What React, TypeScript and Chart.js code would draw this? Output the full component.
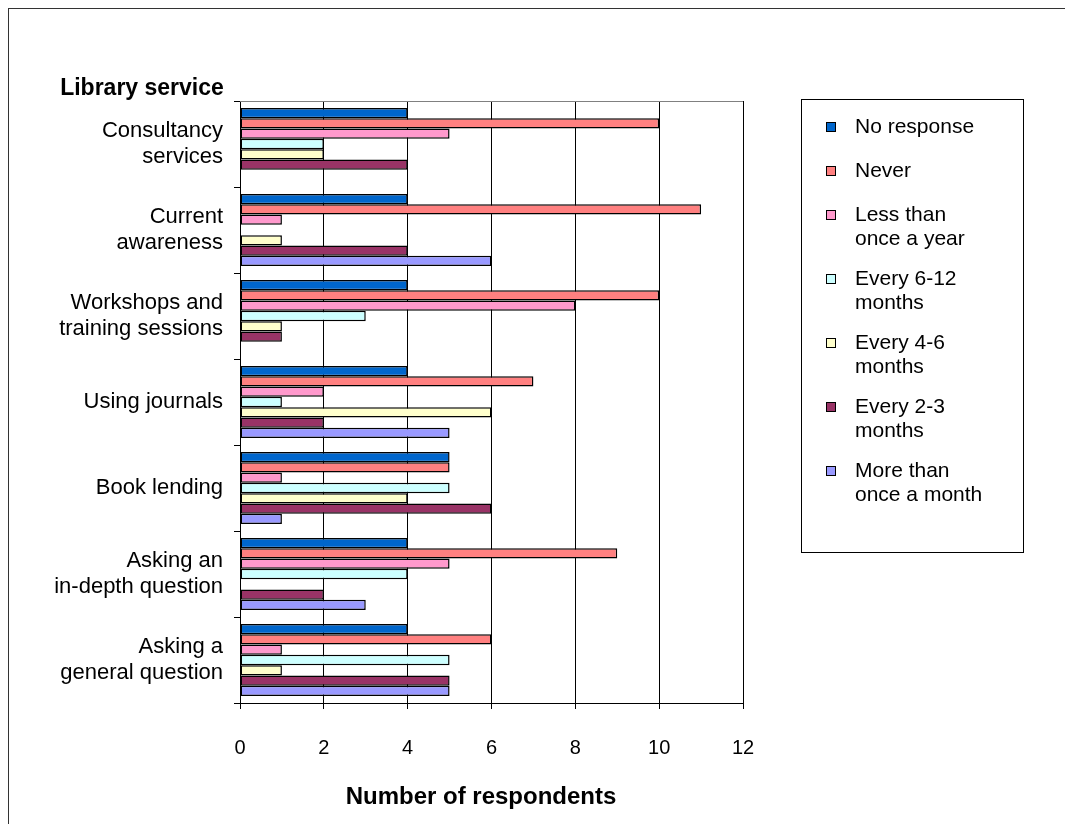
import React, { useEffect, useRef } from "react";
import { Chart, registerables } from "chart.js";

Chart.register(...registerables);

// ---- Data ----
const categories: string[][] = [
  ["Consultancy", "services"],
  ["Current", "awareness"],
  ["Workshops and", "training sessions"],
  ["Using journals"],
  ["Book lending"],
  ["Asking an", "in-depth question"],
  ["Asking a", "general question"],
];

const seriesNames = [
  "No response",
  "Never",
  "Less than once a year",
  "Every 6-12 months",
  "Every 4-6 months",
  "Every 2-3 months",
  "More than once a month",
];

const legendLines: string[][] = [
  ["No response"],
  ["Never"],
  ["Less than", "once a year"],
  ["Every 6-12", "months"],
  ["Every 4-6", "months"],
  ["Every 2-3", "months"],
  ["More than", "once a month"],
];

const seriesColors = ["#0066CC", "#FF8080", "#FF99CC", "#CCFFFF", "#FFFFCC", "#993366", "#9999FF"];

const noResponse = [4, 4, 4, 4, 5, 4, 4];
const never = [10, 11, 10, 7, 5, 9, 6];
const lessThanOnceAYear = [5, 1, 8, 2, 1, 5, 1];
const every6to12Months = [2, 0, 3, 1, 5, 4, 5];
const every4to6Months = [2, 1, 1, 6, 4, 0, 1];
const every2to3Months = [4, 4, 1, 2, 6, 2, 5];
const moreThanOnceAMonth = [0, 6, 0, 5, 1, 3, 5];

const seriesValues = [
  noResponse,
  never,
  lessThanOnceAYear,
  every6to12Months,
  every4to6Months,
  every2to3Months,
  moreThanOnceAMonth,
];

const xMin = 0;
const xMax = 12;
const xStep = 2;

const yAxisTitle = "Library service";
const xAxisTitle = "Number of respondents";

const FONT = "'Liberation Sans', Arial, Helvetica, sans-serif";

const W = 1056;
const H = 815;

export default function App() {
  const canvasRef = useRef<HTMLCanvasElement | null>(null);

  useEffect(() => {
    if (!canvasRef.current) return;

    const decorPlugin = {
      id: "decor",
      afterDraw(chart: any) {
        const ctx = chart.ctx as CanvasRenderingContext2D;
        const area = chart.chartArea;
        ctx.save();
        // plot area top border
        ctx.strokeStyle = "#808080";
        ctx.lineWidth = 1;
        ctx.beginPath();
        ctx.moveTo(area.left, Math.round(area.top) + 0.5);
        ctx.lineTo(area.right, Math.round(area.top) + 0.5);
        ctx.stroke();

        // Y axis title
        ctx.fillStyle = "#000";
        ctx.font = `bold 23px ${FONT}`;
        ctx.textAlign = "center";
        ctx.textBaseline = "middle";
        ctx.fillText(yAxisTitle, 133, 80);

        // X axis title
        ctx.font = `bold 24px ${FONT}`;
        ctx.fillText(xAxisTitle, 472, 788);

        // legend box
        const bx = 792, by = 90, bw = 222, bh = 453;
        ctx.strokeStyle = "#000";
        ctx.lineWidth = 1;
        ctx.strokeRect(bx + 0.5, by + 0.5, bw, bh);

        ctx.font = `21px ${FONT}`;
        ctx.textAlign = "left";
        ctx.textBaseline = "middle";
        let y = 118;
        chart.data.datasets.forEach((ds: any, i: number) => {
          const lines = legendLines[i];
          ctx.fillStyle = ds.backgroundColor;
          ctx.fillRect(817, Math.round(y) - 5, 10, 10);
          ctx.strokeStyle = "#000";
          ctx.strokeRect(817.5, Math.round(y) - 4.5, 9, 9);
          ctx.fillStyle = "#000";
          lines.forEach((ln, j) => {
            ctx.fillText(ln, 846, y + j * 24);
          });
          y += 20 * lines.length + 24;
        });
        ctx.restore();
      },
    };

    const chart = new Chart(canvasRef.current, {
      type: "bar",
      data: {
        labels: categories,
        datasets: seriesNames.map((name, i) => ({
          label: name,
          data: seriesValues[i],
          backgroundColor: seriesColors[i],
          borderColor: "#000",
          borderWidth: (c: any) => (c.raw === 0 ? 0 : 1.5),
          borderSkipped: false,
          categoryPercentage: 0.84,
          barPercentage: 1.0,
        })),
      },
      options: {
        indexAxis: "y",
        responsive: false,
        animation: false,
        layout: { padding: { top: 92, right: 322, left: 0, bottom: 0 } },
        plugins: {
          legend: { display: false },
          tooltip: { enabled: false },
          title: { display: false },
        },
        scales: {
          x: {
            type: "linear",
            position: "bottom",
            min: xMin,
            max: xMax,
            ticks: {
              stepSize: xStep,
              color: "#000",
              font: { family: FONT, size: 20 },
              padding: 27,
            },
            grid: {
              color: "#000",
              lineWidth: 1,
              drawTicks: true,
              tickLength: 6,
            },
            border: { display: true, color: "#000", width: 1 },
            title: { display: false },
            afterFit: (scale: any) => {
              scale.height = 121;
            },
          },
          y: {
            type: "category",
            position: "left",
            ticks: {
              color: "#000",
              font: { family: FONT, size: 22, lineHeight: 1.18 },
              padding: 11,
              autoSkip: false,
            },
            grid: {
              offset: true,
              color: "#000",
              drawOnChartArea: false,
              drawTicks: true,
              tickLength: 6,
            },
            border: { display: true, color: "#000", width: 1 },
            afterFit: (scale: any) => {
              scale.width = 231;
            },
          },
        },
      },
      plugins: [decorPlugin],
    } as any);

    return () => chart.destroy();
  }, []);

  return (
    <div
      style={{
        width: 1065,
        height: 824,
        marginBottom: -8,
        boxSizing: "border-box",
        borderLeft: "1px solid #333",
        borderTop: "1px solid #333",
        background: "#fff",
        overflow: "hidden",
      }}
    >
      <canvas ref={canvasRef} width={W} height={H} style={{ display: "block", width: W, height: H }} />
    </div>
  );
}
